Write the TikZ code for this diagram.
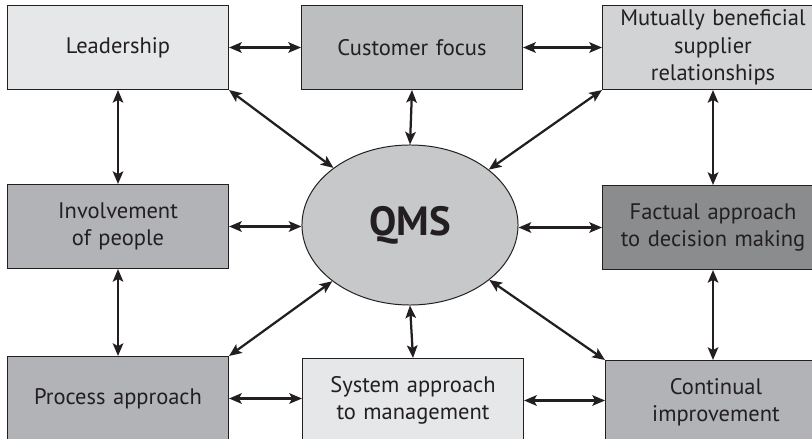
\documentclass[tikz,border=0pt]{standalone}
\usepackage{fontspec}
\setmainfont{PT Sans}
\usepackage{tikz}
\usetikzlibrary{calc,shapes.geometric,arrows.meta}
\definecolor{gris1}{HTML}{E6E7E8}
\definecolor{gris2}{HTML}{BCBEC0}
\definecolor{gris3}{HTML}{D1D3D4}
\definecolor{gris4}{HTML}{B1B3B6}
\definecolor{gris5}{HTML}{8A8C8E}
\definecolor{grisqms}{HTML}{C7C8CA}
\definecolor{encre}{HTML}{231F20}
\tikzstyle{principe} = [rectangle, draw=encre, line width=0.7pt, inner sep=0pt, minimum height=2.1cm, minimum width=5.525cm, text width=5.3cm, text centered, text=encre, font=\fontsize{16}{19.5}\selectfont, anchor=north west]
\tikzstyle{lien} = [{Stealth[length=9pt,width=7.5pt,inset=2pt]}-{Stealth[length=9pt,width=7.5pt,inset=2pt]}, line width=1.6pt, draw=encre]

\begin{document}
\begin{tikzpicture}[x=0.025cm, y=0.025cm]

        \useasboundingbox (0,0) rectangle (812,-439);

        \node (lead) [principe, fill=gris1] at (7,-5) {Leadership};
        \node (cust) [principe, fill=gris2] at (301,-5) {Customer focus};
        \node (supp) [principe, fill=gris3] at (602,-5) {Mutually beneficial\\ supplier\\ relationships};

        \node (invol) [principe, fill=gris4] at (7,-184) {Involvement\\ of people};
        \node (fact) [principe, fill=gris5] at (602,-185) {Factual approach\\ to decision making};

        \node (proc) [principe, fill=gris4] at (7,-356) {Process approach};
        \node (syst) [principe, fill=gris1] at (302,-358) {System approach\\ to management};
        \node (cont) [principe, fill=gris4] at (605,-360) {Continual\\ improvement};

        \node (qms) [ellipse, draw=encre, line width=0.7pt, fill=grisqms, inner sep=0pt, minimum width=5.4cm, minimum height=4cm, text=encre, font=\bfseries\fontsize{29}{31}\selectfont] at (410,-225) {QMS};

        % autour du QMS
        \draw[lien] (lead.east) -- (cust.west);
        \draw[lien] (cust.east) -- (supp.west);
        \draw[lien] (lead.south) -- (invol.north);
        \draw[lien] (invol.south) -- (proc.north);
        \draw[lien] (supp.south) -- (fact.north);
        \draw[lien] (fact.south) -- (fact.south |- cont.north);
        \draw[lien] (proc.east) -- (proc.east -| syst.west);
        \draw[lien] (syst.east) -- (syst.east -| cont.west);

        % vers le QMS
        \draw[lien] (lead.south east) -- (qms);
        \draw[lien] (supp.south west) -- (qms);
        \draw[lien] (proc.north east) -- (qms);
        \draw[lien] (cont.north west) -- (qms);
        \draw[lien] (cust.south) -- (qms.north);
        \draw[lien] (syst.north) -- (qms.south);
        \draw[lien] (invol.east) -- (invol.east -| qms.west);
        \draw[lien] (fact.west) -- (fact.west -| qms.east);

    \end{tikzpicture}
\end{document}
